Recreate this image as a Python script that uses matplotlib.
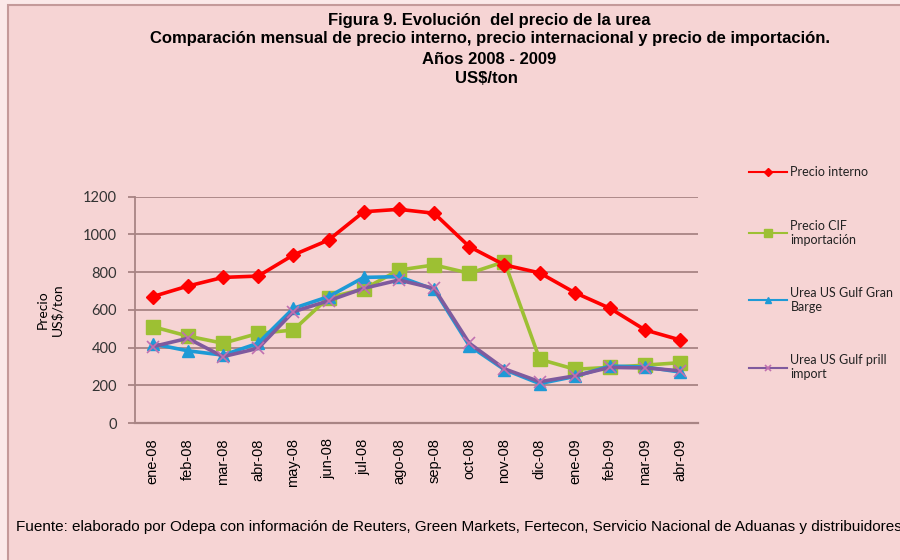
"""
Figura 9: evolucion del precio de la urea, 2008-2009.
"""

import matplotlib
matplotlib.use("Agg")
import matplotlib.pyplot as plt
from matplotlib.patches import Rectangle

MESES = ["ene-08", "feb-08", "mar-08", "abr-08", "may-08", "jun-08", "jul-08",
         "ago-08", "sep-08", "oct-08", "nov-08", "dic-08", "ene-09", "feb-09",
         "mar-09", "abr-09"]

precio_interno = [670, 726, 772, 779, 891, 970, 1120, 1133, 1112, 935, 838,
                  796, 691, 608, 493, 440]
precio_cif = [511, 461, 423, 475, 493, 665, 710, 811, 838, 794, 855, 338,
              285, 295, 307, 320]
gulf_gran = [420, 383, 360, 423, 608, 670, 772, 776, 708, 410, 283, 209,
             247, 302, 297, 270]
gulf_prill = [405, 449, 352, 396, 590, 648, 714, 758, 714, 423, 287, 219,
              250, 295, 292, 277]

BG = "#F6D4D4"
GRID = "#A88484"


def main():
    fig = plt.figure(figsize=(9, 5.6), dpi=100)
    fig.patch.set_facecolor("#FBE9E9")

    # chart area with a border that runs off the right and bottom
    fig.patches.append(Rectangle((8 / 900, -0.05), 1.1, 1 - 5 / 560 + 0.05,
                                 transform=fig.transFigure, facecolor=BG,
                                 edgecolor="#C49A9A", linewidth=1.5, zorder=-5))

    ax = fig.add_axes([0.15, 0.2446, 0.6256, 0.4042])
    ax.patch.set_alpha(0)

    x = range(len(MESES))
    ax.plot(x, precio_interno, color="#FF0000", lw=2.6, marker="D", ms=7,
            label="Precio interno", zorder=5)
    ax.plot(x, precio_cif, color="#9DC033", lw=2.6, marker="s", ms=10,
            label="Precio CIF\nimportación", zorder=3)
    ax.plot(x, gulf_gran, color="#1E9AD6", lw=2.6, marker="^", ms=9,
            label="Urea US Gulf Gran\nBarge", zorder=4)
    ax.plot(x, gulf_prill, color="#7F5A9E", lw=2.6, marker="x", ms=8,
            mew=1.2, mec="#C070B0", label="Urea US Gulf prill\nimport", zorder=4)

    ax.set_xlim(-0.5, len(MESES) - 0.5)
    ax.set_ylim(0, 1200)
    ax.set_yticks(range(0, 1201, 200))
    ax.yaxis.grid(True, color=GRID, lw=1.3)
    ax.set_axisbelow(True)

    ax.set_xticks(list(x))
    ax.set_xticklabels(MESES, rotation=90, fontsize=10.5,
                       family="Liberation Sans")
    ax.tick_params(axis="x", length=0, pad=11)
    ax.tick_params(axis="y", length=5, color=GRID, width=1.3, pad=8,
                   labelsize=10.5)
    for lab in ax.get_yticklabels():
        lab.set_family("Lato")
        lab.set_color("#333333")

    for side in ["top", "right"]:
        ax.spines[side].set_visible(False)
    ax.spines["left"].set_color(GRID)
    ax.spines["left"].set_linewidth(1.3)
    ax.spines["bottom"].set_color(GRID)
    ax.spines["bottom"].set_linewidth(1.6)

    ax.set_ylabel("Precio\nUS$/ton", family="Lato", fontsize=10, labelpad=14)

    # titulo
    tkw = dict(ha="center", va="center", fontsize=12, weight="bold",
               family="Liberation Sans")
    fig.text(489 / 900, 1 - 20 / 560, "Figura 9. Evolución  del precio de la urea", **tkw)
    fig.text(490 / 900, 1 - 39 / 560,
             "Comparación mensual de precio interno, precio internacional y precio de importación.",
             **tkw)
    fig.text(489 / 900, 1 - 59 / 560, "Años 2008 - 2009", **tkw)
    fig.text(486 / 900, 1 - 79 / 560, "US$/ton", **tkw)

    leg = fig.legend(loc="upper left", bbox_to_anchor=(738 / 900, 1 - 155 / 560),
                     frameon=False, prop={"family": "Lato", "size": 9},
                     handlelength=3.0, labelspacing=3.3, handletextpad=0.3,
                     markerscale=0.55)
    for t in leg.get_texts():
        t.set_color("#222222")
    for h in leg.legend_handles:
        h.set_linewidth(1.5)

    fig.text(16 / 900, 1 - 527 / 560,
             "Fuente: elaborado por Odepa con información de Reuters, Green Markets, "
             "Fertecon, Servicio Nacional de Aduanas y distribuidores",
             fontsize=11, family="Liberation Sans", va="center")

    fig.savefig("out.png", dpi=100, facecolor=fig.get_facecolor())


if __name__ == "__main__":
    main()
